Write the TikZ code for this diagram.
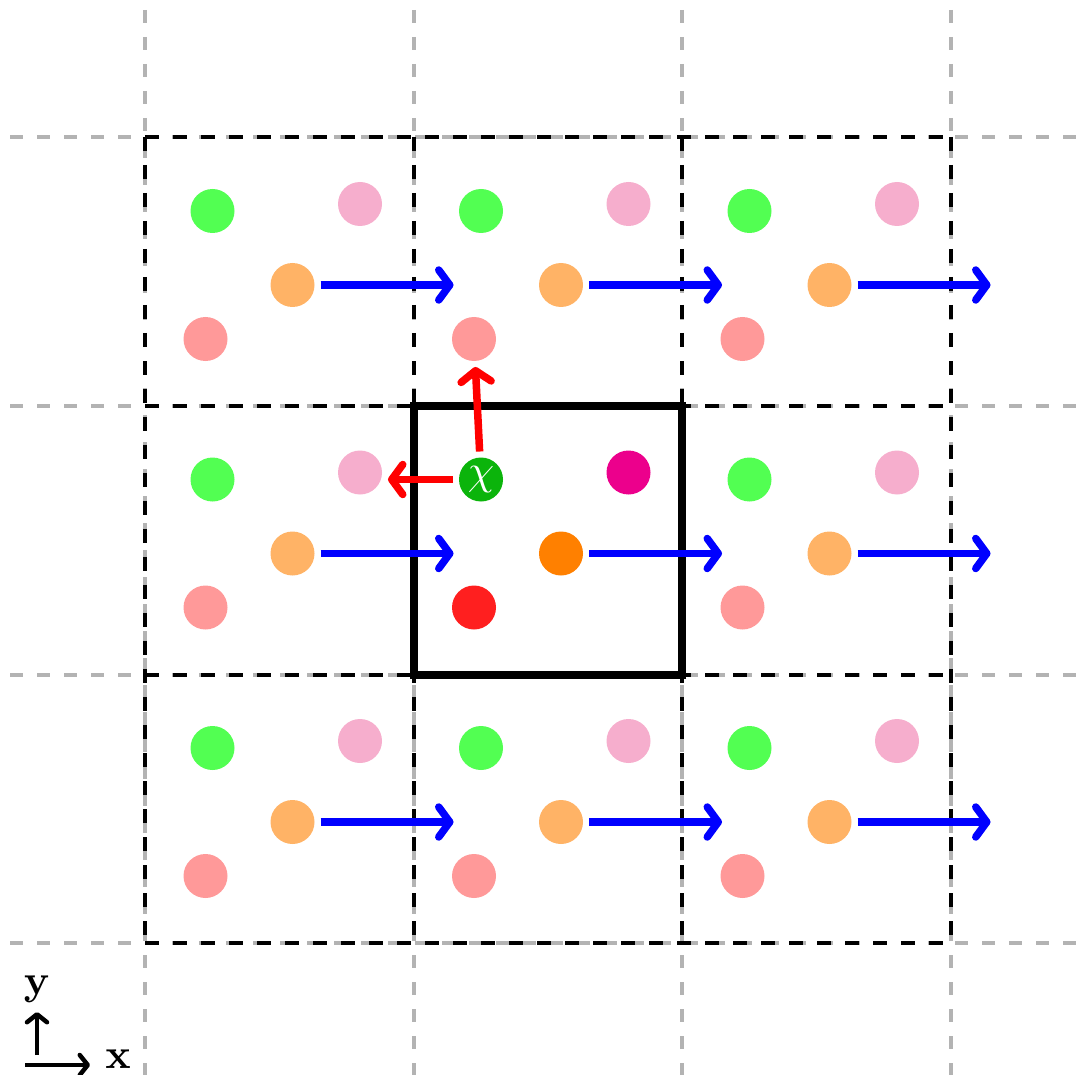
\documentclass[tikz,border=0pt]{standalone}
\usetikzlibrary{arrows.meta}
\definecolor{gG}{HTML}{0BB40B}
\definecolor{gM}{HTML}{EC008C}
\definecolor{gO}{HTML}{FF8000}
\definecolor{gR}{HTML}{FF1F1F}
\definecolor{lG}{HTML}{52FF52}
\definecolor{lM}{HTML}{F6AECD}
\definecolor{lO}{HTML}{FFB366}
\definecolor{lR}{HTML}{FF9999}
\definecolor{gridgray}{HTML}{B3B3B3}
\tikzset{
  dot/.style={circle,inner sep=0pt,minimum size=44pt,draw=none},
  graydash/.style={gridgray,line width=4pt,dash pattern=on 13pt off 14pt},
  blackdash/.style={black,line width=4pt,dash pattern=on 14pt off 14pt},
  vec/.style={line width=7.5pt,-{Straight Barb[length=11pt,width=30pt,round]}},
  axis/.style={line width=4.5pt,-{Straight Barb[length=8pt,width=20pt,round]}},
  lbl/.style={scale=4.2,inner sep=0pt},
}
\begin{document}
\begin{tikzpicture}[x=1pt,y=-1pt]
\useasboundingbox (0,0) rectangle (1079,1075);
% gray grid
\foreach \v in {145,413.5,682,950.5}{
  \draw[graydash] (\v,10) -- (\v,1075);
}
\foreach \h in {137,406,674.5,943}{
  \draw[graydash] (10,\h) -- (1079,\h);
}
% black dashed grid
\foreach \v in {145,413.5,682,950.5}{
  \draw[blackdash] (\v,137) -- (\v,943);
}
\foreach \h in {137,406,674.5,943}{
  \draw[blackdash] (145,\h) -- (950.5,\h);
}
% central cell
\draw[line width=8pt] (413.5,406) rectangle (682,674.5);
% dots
\foreach \i in {0,1,2}{
  \foreach \j in {0,1,2}{
    \pgfmathsetmacro\xo{145+268.5*\i}
    \pgfmathsetmacro\yo{137+268.5*\j}
    \pgfmathtruncatemacro\ctr{(\i==1)&&(\j==1)}
    \ifnum\ctr=1
      \node[dot,fill=gG] (g\i\j) at (\xo+67.5,\yo+74) {};
      \node[dot,fill=gM] (m\i\j) at (\xo+215,\yo+67) {};
      \node[dot,fill=gO] (o\i\j) at (\xo+147.5,\yo+148) {};
      \node[dot,fill=gR] (r\i\j) at (\xo+60.5,\yo+202) {};
    \else
      \node[dot,fill=lG] (g\i\j) at (\xo+67.5,\yo+74) {};
      \node[dot,fill=lM] (m\i\j) at (\xo+215,\yo+67) {};
      \node[dot,fill=lO] (o\i\j) at (\xo+147.5,\yo+148) {};
      \node[dot,fill=lR] (r\i\j) at (\xo+60.5,\yo+202) {};
    \fi
    \coordinate (os\i\j) at ([xshift=28pt]o\i\j.center);
    \coordinate (oe\i\j) at ([xshift=161pt]o\i\j.center);
    \draw[vec,blue] (os\i\j) -- (oe\i\j);
  }
}
\node[lbl,text=white] (chi) at (g11.center) {$\chi$};
% red vectors from chi
\draw[vec,red,shorten <=28pt,shorten >=28pt] (g11.center) -- (r10.center);
\coordinate (lt) at (g11.center -| m01.center);
\draw[vec,red,shorten <=28pt,shorten >=28pt] (g11.center) -- (lt);
% axes
\coordinate (ax0) at (37,1065);
\coordinate (axx) at (90,1065);
\coordinate (axy) at (37,1012);
\draw[axis] ([xshift=-12pt]ax0) -- (axx);
\draw[axis] ([yshift=10pt]ax0) -- (axy);
\node[lbl] (xl) at (118,1059) {$\mathbf{x}$};
\node[lbl] (yl) at (37,989) {$\mathbf{y}$};
\end{tikzpicture}
\end{document}
